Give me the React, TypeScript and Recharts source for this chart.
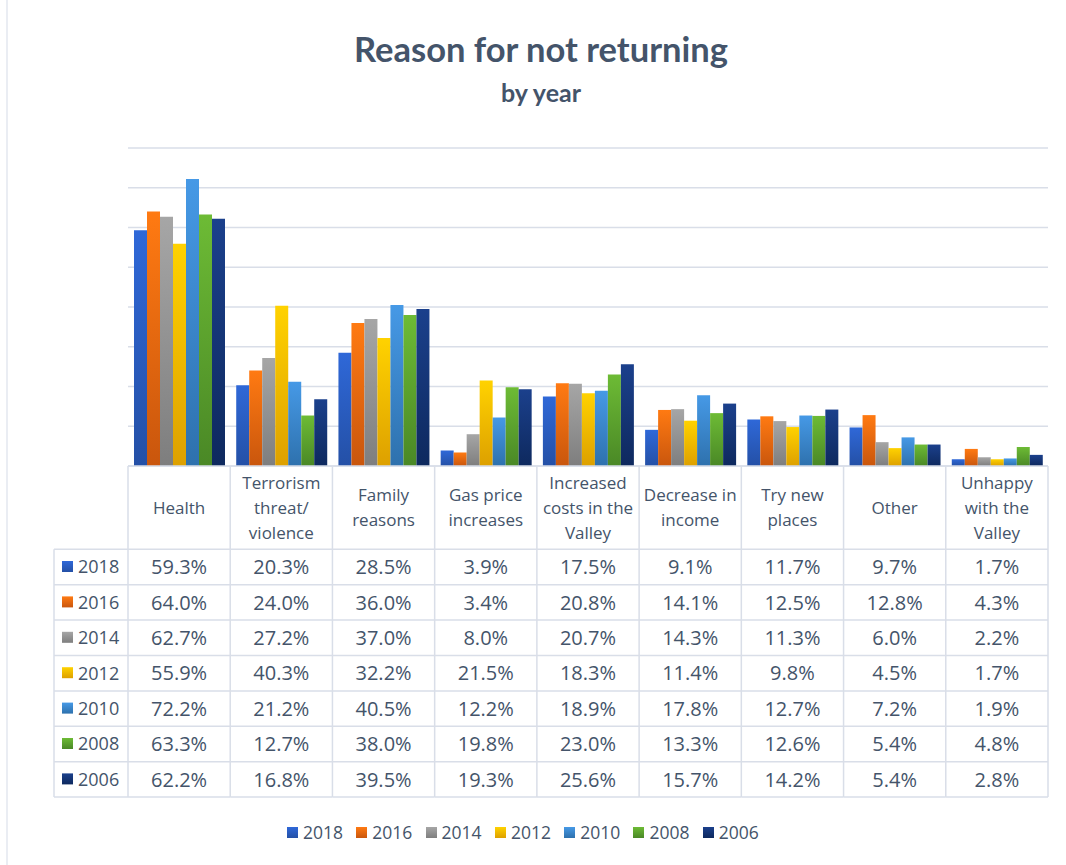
import { Bar, BarChart, CartesianGrid, XAxis, YAxis } from "recharts";

const categories = [
  "Health",
  "Terrorism\nthreat/\nviolence",
  "Family\nreasons",
  "Gas price\nincreases",
  "Increased\ncosts in the\nValley",
  "Decrease in\nincome",
  "Try new\nplaces",
  "Other",
  "Unhappy\nwith the\nValley",
];

const years = ["2018", "2016", "2014", "2012", "2010", "2008", "2006"];

const v2018 = [59.3, 20.3, 28.5, 3.9, 17.5, 9.1, 11.7, 9.7, 1.7];
const v2016 = [64.0, 24.0, 36.0, 3.4, 20.8, 14.1, 12.5, 12.8, 4.3];
const v2014 = [62.7, 27.2, 37.0, 8.0, 20.7, 14.3, 11.3, 6.0, 2.2];
const v2012 = [55.9, 40.3, 32.2, 21.5, 18.3, 11.4, 9.8, 4.5, 1.7];
const v2010 = [72.2, 21.2, 40.5, 12.2, 18.9, 17.8, 12.7, 7.2, 1.9];
const v2008 = [63.3, 12.7, 38.0, 19.8, 23.0, 13.3, 12.6, 5.4, 4.8];
const v2006 = [62.2, 16.8, 39.5, 19.3, 25.6, 15.7, 14.2, 5.4, 2.8];

const seriesValues = [v2018, v2016, v2014, v2012, v2010, v2008, v2006];

const yTicks = [0, 10, 20, 30, 40, 50, 60, 70, 80];

// gradient stops (top, bottom) per year
const topColors = ["#2F68D8", "#FF7A12", "#A6A6A6", "#FFD200", "#4699E6", "#6DBB35", "#1B408C"];
const bottomColors = ["#2450A6", "#C9560D", "#7E7E7E", "#DDA000", "#2E71AD", "#4A8826", "#0E295E"];

const TEXT = "#44546A";
const LINE = "#D9DEE8";
const FONT = "'Open Sans', sans-serif";

const W = 1066;
const H = 865;
const PLOT_LEFT = 128;
const PLOT_RIGHT = 1048;
const PLOT_TOP = 148;
const PLOT_BOTTOM = 466;
const HEADER_BOTTOM = 549.3;
const ROW_H = 35.4;
const TABLE_LEFT = 54;
const TABLE_BOTTOM = HEADER_BOTTOM + ROW_H * years.length;

const chartData = categories.map((category, i) => {
  const row: Record<string, string | number> = { category };
  years.forEach((y, s) => {
    row["y" + y] = seriesValues[s][i];
  });
  return row;
});

function RowLabels() {
  return (
    <g>
      <line x1={TABLE_LEFT} x2={TABLE_LEFT} y1={HEADER_BOTTOM} y2={TABLE_BOTTOM} stroke={LINE} strokeWidth={1.5} />
      <line x1={TABLE_LEFT} x2={PLOT_LEFT} y1={HEADER_BOTTOM} y2={HEADER_BOTTOM} stroke={LINE} strokeWidth={1.5} />
      {years.map((y, r) => {
        const cy = HEADER_BOTTOM + ROW_H * r + ROW_H / 2;
        return (
          <g key={y}>
            <line x1={TABLE_LEFT} x2={PLOT_LEFT} y1={cy + ROW_H / 2} y2={cy + ROW_H / 2} stroke={LINE} strokeWidth={1.5} />
            <rect x={62} y={cy - 6} width={11} height={11} fill={`url(#grad${r})`} />
            <text x={78} y={cy} dy="0.36em" fontSize={18} fill={TEXT} fontFamily={FONT}>
              {y}
            </text>
          </g>
        );
      })}
    </g>
  );
}

function TableColumn(props: any) {
  const { x, payload } = props;
  const idx: number = payload?.index ?? props.index ?? 0;
  const colW = (PLOT_RIGHT - PLOT_LEFT) / categories.length;
  const left = x - colW / 2;
  const right = x + colW / 2;
  const lines = String(payload.value).split("\n");
  const lineH = 25;
  const headerMid = (PLOT_BOTTOM + HEADER_BOTTOM) / 2;
  const firstY = headerMid - ((lines.length - 1) * lineH) / 2;
  return (
    <g>
      {idx === 0 && <RowLabels />}
      <line x1={left} x2={left} y1={PLOT_BOTTOM} y2={TABLE_BOTTOM} stroke={LINE} strokeWidth={1.5} />
      {idx === categories.length - 1 && (
        <line x1={right} x2={right} y1={PLOT_BOTTOM} y2={TABLE_BOTTOM} stroke={LINE} strokeWidth={1.5} />
      )}
      <line x1={left} x2={right} y1={HEADER_BOTTOM} y2={HEADER_BOTTOM} stroke={LINE} strokeWidth={1.5} />
      {lines.map((l, k) => (
        <text
          key={k}
          x={x}
          y={firstY + k * lineH}
          dy="0.36em"
          textAnchor="middle"
          fontSize={17}
          fill={TEXT}
          fontFamily={FONT}
        >
          {l}
        </text>
      ))}
      {years.map((y, r) => {
        const cy = HEADER_BOTTOM + ROW_H * r + ROW_H / 2;
        return (
          <g key={y}>
            <line x1={left} x2={right} y1={cy + ROW_H / 2} y2={cy + ROW_H / 2} stroke={LINE} strokeWidth={1.5} />
            <text x={x} y={cy} dy="0.36em" textAnchor="middle" fontSize={20} fill={TEXT} fontFamily={FONT}>
              {seriesValues[r][idx].toFixed(1)}%
            </text>
          </g>
        );
      })}
    </g>
  );
}

export default function App() {
  return (
    <div style={{ position: "absolute", left: 0, top: 0, width: W, height: H, background: "#fff" }}>
      <BarChart
        width={W}
        height={H}
        data={chartData}
        margin={{ top: PLOT_TOP, left: PLOT_LEFT, right: W - PLOT_RIGHT, bottom: H - TABLE_BOTTOM }}
        barCategoryGap={6}
        barGap={0}
      >
        <defs>
          {years.map((y, s) => (
            <linearGradient key={y} id={`grad${s}`} x1="0" y1="0" x2="0" y2="1">
              <stop offset="0%" stopColor={topColors[s]} />
              <stop offset="100%" stopColor={bottomColors[s]} />
            </linearGradient>
          ))}
        </defs>
        <CartesianGrid vertical={false} stroke={LINE} strokeWidth={1.5} />
        <YAxis hide domain={[0, 80]} ticks={yTicks} />
        <XAxis
          dataKey="category"
          height={TABLE_BOTTOM - PLOT_BOTTOM}
          axisLine={{ stroke: LINE, strokeWidth: 1.5 }}
          tickLine={false}
          tickSize={0}
          tickMargin={0}
          interval={0}
          tick={(p: any) => <TableColumn {...p} />}
        />
        {years.map((y, s) => (
          <Bar key={y} dataKey={"y" + y} name={y} fill={`url(#grad${s})`} isAnimationActive={false} />
        ))}
      </BarChart>

      <svg width={W} height={H} style={{ position: "absolute", left: 0, top: 0, pointerEvents: "none" }}>
        <line x1={7} x2={7} y1={0} y2={H} stroke="#E3E7EF" strokeWidth={1.5} />
        <text x={541} y={62} textAnchor="middle" fontSize={34.5} fontWeight={700} fill={TEXT} fontFamily="Lato, sans-serif">
          Reason for not returning
        </text>
        <text x={541} y={102} textAnchor="middle" fontSize={25} fontWeight={700} fill={TEXT} fontFamily="Lato, sans-serif">
          by year
        </text>
      </svg>

      <div style={{ position: "absolute", left: 287, top: 820, display: "flex", fontFamily: FONT, color: TEXT }}>
        {years.map((y, s) => (
          <div key={y} style={{ width: 69.3, display: "flex", alignItems: "center", height: 24 }}>
            <span
              style={{
                display: "inline-block",
                width: 11,
                height: 11,
                background: `linear-gradient(${topColors[s]}, ${bottomColors[s]})`,
              }}
            />
            <span style={{ marginLeft: 5, fontSize: 17.5 }}>{y}</span>
          </div>
        ))}
      </div>
    </div>
  );
}
